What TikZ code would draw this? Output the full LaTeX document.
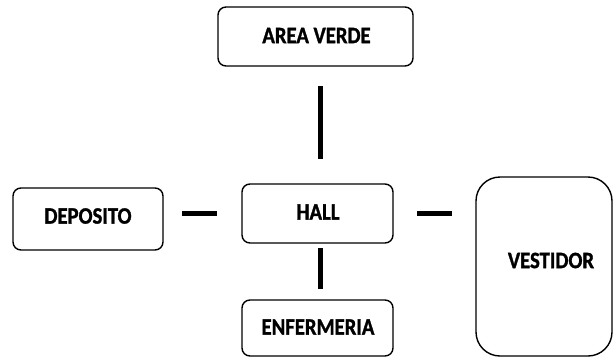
\documentclass[tikz,border=0pt]{standalone}
\usepackage{fontspec}
\setmainfont[FakeStretch=0.88, BoldFeatures={FakeBold=1.2}]{Carlito}
\begin{document}
\begin{tikzpicture}[x=1pt,y=-1pt,
  room/.style={draw=black, line width=1.4pt, rounded corners=8pt, fill=white},
  lbl/.style={font=\fontsize{23.5}{25}\selectfont\bfseries, inner sep=0pt},
  link/.style={line width=5pt}]
\useasboundingbox (0,0) rectangle (616,360);
\draw[room] (218,7) rectangle (413,66);
\node[lbl] (areav) at (316.5,35.5) {AREA VERDE};
\draw[room] (13,188) rectangle (163,250);
\node[lbl] (depo) at (88,216) {DEPOSITO};
\draw[room] (242,184) rectangle (393,243);
\node[lbl] (hall) at (318,212) {HALL};
\draw[room] (242,300) rectangle (393,356);
\node[lbl] (enf) at (318,327) {ENFERMERIA};
\draw[room, rounded corners=24pt] (476,177) rectangle (612,356);
\node[lbl] (vest) at (551,260.5) {VESTIDOR};
\coordinate (u1) at (320,86); \coordinate (u2) at (320,159);
\coordinate (d1) at (320,248); \coordinate (d2) at (320,289);
\coordinate (l1) at (182,213); \coordinate (l2) at (217,213);
\coordinate (r1) at (417,213); \coordinate (r2) at (452,213);
\draw[link] (u1) -- (u2);
\draw[link] (d1) -- (d2);
\draw[link] (l1) -- (l2);
\draw[link] (r1) -- (r2);
\end{tikzpicture}
\end{document}
